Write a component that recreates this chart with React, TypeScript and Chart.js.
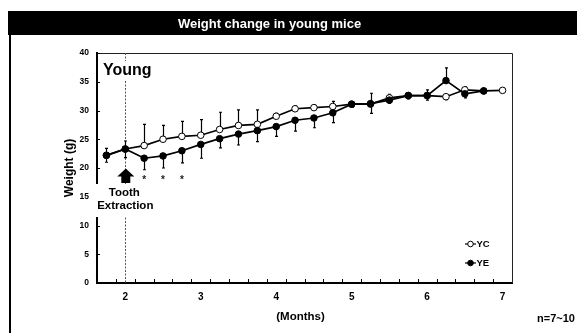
import React, { useEffect, useRef } from "react";
import { Chart, registerables } from "chart.js";

Chart.register(...registerables);

const months = [1.75, 2, 2.25, 2.5, 2.75, 3, 3.25, 3.5, 3.75, 4, 4.25, 4.5, 4.75, 5, 5.25, 5.5, 5.75, 6, 6.25, 6.5, 6.75, 7];
const ycValues = [22.2, 23.3, 23.9, 25.0, 25.5, 25.7, 26.7, 27.4, 27.6, 29.0, 30.3, 30.5, 30.7, 31.1, 31.1, 32.2, 32.6, 32.6, 32.4, 33.6, 33.4, 33.5];
const yeValues: (number | null)[] = [22.2, 23.3, 21.7, 22.1, 23.0, 24.1, 25.1, 25.9, 26.5, 27.2, 28.3, 28.7, 29.6, 31.1, 31.2, 31.8, 32.6, 32.6, 35.2, 32.9, 33.4, null];
const ycErr = [1.2, 1.4, 3.7, 2.4, 2.6, 2.7, 3.0, 2.7, 2.5, 0.5, 0.5, 0.5, 0.9, 0.4, 1.6, 0.6, 0.5, 1.0, 0.5, 0.5, 0.4, 0.4];
const yeErr = [1.2, 1.5, 2.0, 2.1, 2.1, 2.4, 1.6, 1.9, 1.9, 1.7, 1.9, 1.7, 1.7, 0.5, 1.8, 0.5, 0.6, 0.8, 2.2, 0.7, 0.4, 0];
const xTickLabels = [2, 3, 4, 5, 6, 7];
const yTickValues = [0, 5, 10, 15, 20, 25, 30, 35, 40];
const significantMonths = [2.25, 2.5, 2.75];
const extractionMonth = 2;
const seriesNames = ["YC", "YE"];
const titleText = "Weight change in young mice";
const yTitle = "Weight (g)";
const xTitle = "(Months)";
const nText = "n=7~10";

const FONT = '"Liberation Sans", Arial, sans-serif';

const decorPlugin = {
  id: "decor",
  beforeDraw(chart: any) {
    const ctx = chart.ctx;
    ctx.save();
    ctx.fillStyle = "#ffffff";
    ctx.fillRect(0, 0, chart.width, chart.height);
    ctx.fillStyle = "#000000";
    ctx.fillRect(8, 11, chart.width - 8, 24);
    ctx.fillRect(9, 11, 2, chart.height - 11);
    ctx.fillStyle = "#ffffff";
    ctx.font = `bold 13px ${FONT}`;
    ctx.textAlign = "center";
    ctx.textBaseline = "middle";
    ctx.fillText(titleText, 269.5, 24.5);
    ctx.restore();
  },
  beforeDatasetsDraw(chart: any) {
    const ctx = chart.ctx;
    const xs = chart.scales.x;
    const ys = chart.scales.y;
    const a = chart.chartArea;
    ctx.save();
    ctx.strokeStyle = "#222";
    ctx.lineWidth = 1;
    ctx.beginPath();
    ctx.moveTo(a.left, a.top + 0.5);
    ctx.lineTo(a.right + 0.5, a.top + 0.5);
    ctx.lineTo(a.right + 0.5, a.bottom);
    ctx.stroke();
    ctx.strokeStyle = "#000";
    ctx.lineWidth = 1;
    ctx.beginPath();
    for (let v = xs.min + 0.25; v < xs.max - 0.01; v += 0.25) {
      const px = Math.round(xs.getPixelForValue(v)) + 0.5;
      ctx.moveTo(px, a.bottom);
      ctx.lineTo(px, a.bottom - 4);
    }
    yTickValues.forEach((v) => {
      const py = Math.round(ys.getPixelForValue(v)) + 0.5;
      ctx.moveTo(a.left, py);
      ctx.lineTo(a.left + 3, py);
    });
    ctx.stroke();
    const ex = Math.round(xs.getPixelForValue(extractionMonth)) + 0.5;
    ctx.strokeStyle = "#555";
    ctx.setLineDash([2, 1.5]);
    ctx.beginPath();
    ctx.moveTo(ex, a.top);
    ctx.lineTo(ex, a.bottom);
    ctx.stroke();
    ctx.setLineDash([]);
    ctx.strokeStyle = "#000";
    ctx.lineWidth = 1.2;
    ctx.beginPath();
    months.forEach((m, i) => {
      const yc = ycValues[i];
      const ye = yeValues[i];
      const dirC = ye == null || yc >= ye ? 1 : -1;
      const px = Math.round(xs.getPixelForValue(m)) + 0.5;
      const draw = (val: number, err: number, dir: number) => {
        if (!err) return;
        const p0 = ys.getPixelForValue(val);
        const p1 = ys.getPixelForValue(val + dir * err);
        ctx.moveTo(px, p0);
        ctx.lineTo(px, p1);
        ctx.moveTo(px - 1.5, p1);
        ctx.lineTo(px + 1.5, p1);
      };
      draw(yc, ycErr[i], dirC);
      if (ye != null) draw(ye, yeErr[i], -dirC);
    });
    ctx.stroke();
    ctx.restore();
  },
  afterDatasetsDraw(chart: any) {
    const ctx = chart.ctx;
    const xs = chart.scales.x;
    ctx.save();
    const ex = xs.getPixelForValue(extractionMonth);
    ctx.fillStyle = "#fff";
    ctx.fillRect(100, 61, 53, 19);
    ctx.fillStyle = "#000";
    ctx.font = `bold 16px ${FONT}`;
    ctx.textAlign = "left";
    ctx.textBaseline = "middle";
    ctx.fillText("Young", 103, 71);
    ctx.fillStyle = "#fff";
    ctx.fillRect(95, 184, 62, 33);
    ctx.fillStyle = "#000";
    ctx.font = `bold 11.5px ${FONT}`;
    ctx.textAlign = "center";
    ctx.fillText("Tooth", ex - 1, 193);
    ctx.fillText("Extraction", ex, 206);
    const cx = ex + 0.5;
    ctx.beginPath();
    ctx.moveTo(cx, 168.5);
    ctx.lineTo(cx + 8.5, 176.5);
    ctx.lineTo(cx + 4.5, 176.5);
    ctx.lineTo(cx + 4.5, 183);
    ctx.lineTo(cx - 4.5, 183);
    ctx.lineTo(cx - 4.5, 176.5);
    ctx.lineTo(cx - 8.5, 176.5);
    ctx.closePath();
    ctx.fill();
    ctx.font = `bold 10px ${FONT}`;
    ctx.fillStyle = "#222";
    ctx.textBaseline = "alphabetic";
    significantMonths.forEach((m) => {
      ctx.fillText("*", xs.getPixelForValue(m), 182.5);
    });
    const rows = [244, 263];
    rows.forEach((ry, i) => {
      ctx.strokeStyle = "#000";
      ctx.lineWidth = 1.2;
      ctx.beginPath();
      ctx.moveTo(465, ry);
      ctx.lineTo(476, ry);
      ctx.stroke();
      ctx.beginPath();
      ctx.arc(470.5, ry, 2.8, 0, Math.PI * 2);
      ctx.fillStyle = i === 0 ? "#fff" : "#000";
      ctx.fill();
      ctx.lineWidth = 1;
      ctx.stroke();
      ctx.fillStyle = "#000";
      ctx.font = `bold 9.5px ${FONT}`;
      ctx.textAlign = "left";
      ctx.textBaseline = "middle";
      ctx.fillText(seriesNames[i], 476.5, ry + 0.5);
    });
    ctx.restore();
  },
  afterDraw(chart: any) {
    const ctx = chart.ctx;
    const a = chart.chartArea;
    ctx.save();
    ctx.fillStyle = "#000";
    ctx.textBaseline = "middle";
    ctx.textAlign = "center";
    ctx.font = `bold 11.5px ${FONT}`;
    ctx.fillText(xTitle, (a.left + a.right) / 2 - 4, 317);
    ctx.font = `bold 11px ${FONT}`;
    ctx.textAlign = "left";
    ctx.fillText(nText, 537, 319);
    ctx.translate(70, (a.top + a.bottom) / 2);
    ctx.rotate(-Math.PI / 2);
    ctx.textAlign = "center";
    ctx.font = `bold 12px ${FONT}`;
    ctx.fillText(yTitle, 0, 0);
    ctx.restore();
  },
};

export default function App() {
  const ref = useRef<HTMLCanvasElement>(null);
  useEffect(() => {
    if (!ref.current) return;
    const chart = new Chart(ref.current, {
      type: "line",
      data: {
        datasets: [
          {
            label: seriesNames[0],
            data: months.map((m, i) => ({ x: m, y: ycValues[i] })),
            borderColor: "#000",
            borderWidth: 1.7,
            pointRadius: 3.3,
            pointBackgroundColor: "#fff",
            pointBorderColor: "#000",
            pointBorderWidth: 1,
            order: 2,
          },
          {
            label: seriesNames[1],
            data: months.map((m, i) => ({ x: m, y: yeValues[i] })),
            borderColor: "#000",
            borderWidth: 1.7,
            pointRadius: 3.3,
            pointBackgroundColor: "#000",
            pointBorderColor: "#000",
            pointBorderWidth: 1,
            order: 1,
            spanGaps: false,
          },
        ],
      },
      options: {
        responsive: false,
        animation: false,
        events: [],
        layout: { padding: { top: 53, right: 65, bottom: 0, left: 0 } },
        plugins: { legend: { display: false }, tooltip: { enabled: false }, title: { display: false } },
        scales: {
          x: {
            type: "linear",
            min: 1.625,
            max: 7.125,
            afterBuildTicks: (s: any) => {
              s.ticks = xTickLabels.map((v) => ({ value: v }));
            },
            afterFit: (s: any) => {
              s.height = 50;
            },
            ticks: {
              color: "#000",
              font: { family: FONT, size: 10, weight: "bold" },
              padding: 8,
              maxRotation: 0,
              autoSkip: false,
              callback: (v: any) => String(v),
            },
            grid: { display: true, drawOnChartArea: false, drawTicks: false },
            border: { display: true, color: "#000", width: 2 },
          },
          y: {
            min: 0,
            max: 40,
            afterBuildTicks: (s: any) => {
              s.ticks = yTickValues.map((v) => ({ value: v }));
            },
            afterFit: (s: any) => {
              s.width = 97;
            },
            ticks: {
              color: "#000",
              font: { family: FONT, size: 8.5, weight: "bold" },
              padding: 8,
              callback: (v: any) => String(v),
            },
            grid: { display: true, drawOnChartArea: false, drawTicks: false },
            border: { display: true, color: "#000", width: 2 },
          },
        },
      },
      plugins: [decorPlugin],
    } as any);
    return () => chart.destroy();
  }, []);
  return (
    <div style={{ position: "fixed", left: 0, top: 0, width: 577, height: 333 }}>
      <canvas ref={ref} width={577} height={333} style={{ width: 577, height: 333 }} />
    </div>
  );
}
